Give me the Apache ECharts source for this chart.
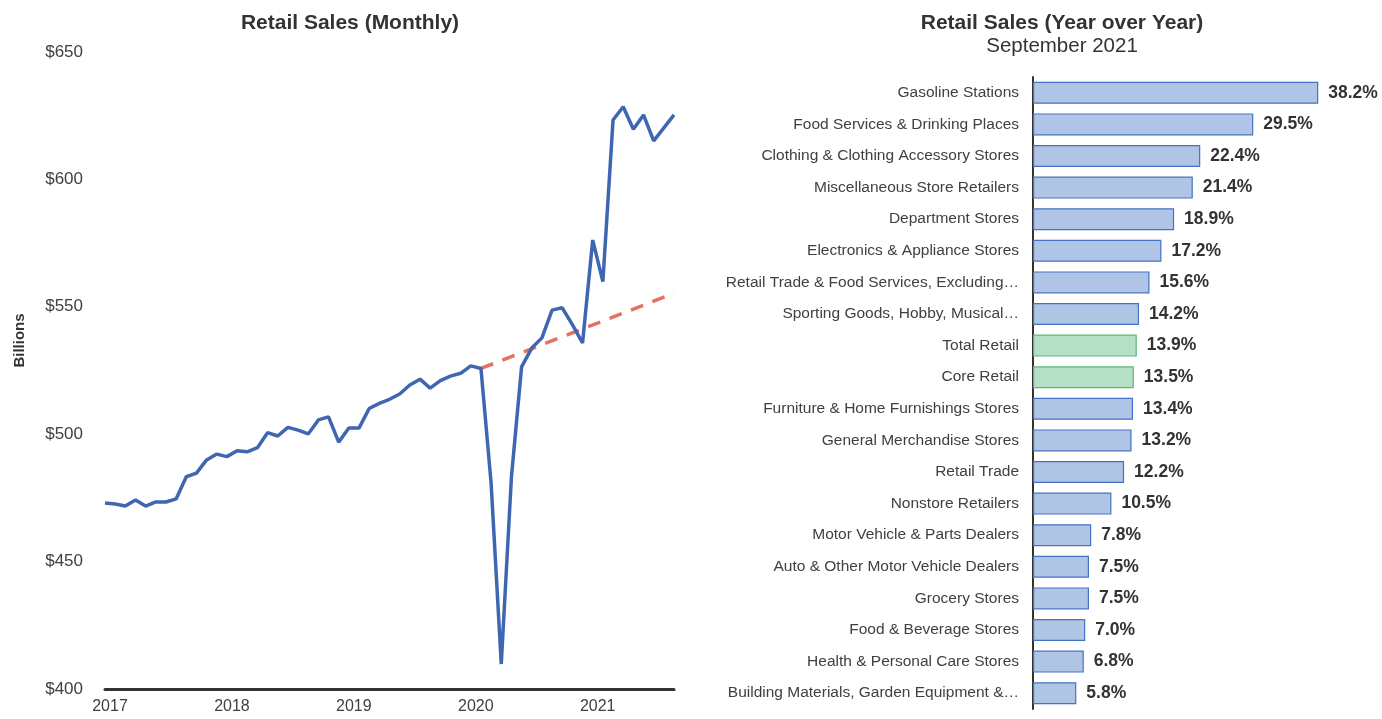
<!DOCTYPE html>
<html>
<head>
<meta charset="utf-8">
<title>Retail Sales</title>
<script src="https://cdn.jsdelivr.net/npm/echarts@6/dist/echarts.min.js"></script>
<style>
  html, body { margin: 0; padding: 0; background: #fff; }
  #chart { width: 1382px; height: 719px; }
</style>
</head>
<body>
<div id="chart"></div>
<script>
// monthly retail sales, billions of dollars (Jan 2017 - Sep 2021)
const months = []
for (let y = 2017; y <= 2021; y++) {
  for (let m = 1; m <= 12; m++) {
    if (y === 2021 && m > 9) break
    months.push(y + '-' + String(m).padStart(2, '0'))
  }
}
const sales = [
  473.0, 472.6, 471.8, 474.2, 471.8, 473.4, 473.4, 474.6, 483.3, 484.7, 489.9, 492.2,
  491.2, 493.5, 493.1, 494.7, 500.6, 499.3, 502.7, 501.6, 500.1, 505.6, 506.8, 496.9,
  502.4, 502.4, 510.1, 512.1, 513.7, 515.8, 519.3, 521.6, 518.1, 521.0, 522.8, 523.9,
  526.8, 525.8, 480.8, 409.8, 483.2, 526.4, 533.8, 537.8, 548.7, 549.6, 543.0, 535.8,
  576.2, 559.9, 623.3, 628.5, 619.7, 625.3, 615.1, 620.2, 625.3
]
// pre-pandemic trend (start and end points)
const trend = [['2020-02', 525.8], ['2021-09', 555.3]]

// year over year change, September 2021
const categories = [
  'Gasoline Stations',
  'Food Services & Drinking Places',
  'Clothing & Clothing Accessory Stores',
  'Miscellaneous Store Retailers',
  'Department Stores',
  'Electronics & Appliance Stores',
  'Retail Trade & Food Services, Excluding…',
  'Sporting Goods, Hobby, Musical…',
  'Total Retail',
  'Core Retail',
  'Furniture & Home Furnishings Stores',
  'General Merchandise Stores',
  'Retail Trade',
  'Nonstore Retailers',
  'Motor Vehicle & Parts Dealers',
  'Auto & Other Motor Vehicle Dealers',
  'Grocery Stores',
  'Food & Beverage Stores',
  'Health & Personal Care Stores',
  'Building Materials, Garden Equipment &…'
]
const yoy = [38.2, 29.5, 22.4, 21.4, 18.9, 17.2, 15.6, 14.2, 13.9, 13.5, 13.4, 13.2, 12.2, 10.5, 7.8, 7.5, 7.5, 7.0, 6.8, 5.8]
const highlighted = ['Total Retail', 'Core Retail']

const font = '"Liberation Sans", Arial, sans-serif'
const chart = echarts.init(document.getElementById('chart'))

const option = {
  backgroundColor: '#fff',
  animation: false,
  textStyle: { fontFamily: font },
  title: [
    {
      text: 'Retail Sales (Monthly)',
      left: 345,
      top: 8,
      textAlign: 'center',
      textStyle: { fontSize: 21, fontWeight: 'bold', color: '#333', fontFamily: font }
    },
    {
      text: 'Retail Sales (Year over Year)',
      subtext: 'September 2021',
      left: 1057,
      top: 8,
      textAlign: 'center',
      itemGap: 2,
      textStyle: { fontSize: 21, fontWeight: 'bold', color: '#333', fontFamily: font },
      subtextStyle: { fontSize: 20.5, color: '#333', fontFamily: font }
    }
  ],
  grid: [
    { left: 105, right: 708, top: 52, bottom: 30 },
    { left: 1033, right: 13, top: 77, bottom: 10 }
  ],
  xAxis: [
    {
      type: 'category',
      gridIndex: 0,
      data: months,
      boundaryGap: false,
      axisLine: { show: true, lineStyle: { color: '#333', width: 3 } },
      axisTick: { show: false },
      splitLine: { show: false },
      axisLabel: {
        interval: (idx) => idx % 12 === 0,
        formatter: (v) => v.slice(0, 4),
        color: '#404040',
        fontSize: 16,
        margin: 10,
        padding: [0, 0, 0, 10]
      }
    },
    {
      type: 'value',
      gridIndex: 1,
      min: 0,
      max: 45,
      show: false
    }
  ],
  yAxis: [
    {
      type: 'value',
      gridIndex: 0,
      min: 400,
      max: 650,
      interval: 50,
      name: 'Billions',
      nameLocation: 'middle',
      nameGap: 78,
      nameTextStyle: { fontSize: 15, fontWeight: 'bold', color: '#333', padding: [0, 0, 0, 60] },
      axisLine: { show: false },
      axisTick: { show: false },
      splitLine: { show: false },
      axisLabel: { formatter: '${value}', color: '#404040', fontSize: 17, margin: 22 }
    },
    {
      type: 'category',
      gridIndex: 1,
      data: categories,
      inverse: true,
      axisLine: { show: true, lineStyle: { color: '#333', width: 2 } },
      axisTick: { show: false },
      axisLabel: { color: '#404040', fontSize: 15.5, margin: 14 }
    }
  ],
  series: [
    {
      name: 'Retail Sales',
      type: 'line',
      xAxisIndex: 0,
      yAxisIndex: 0,
      data: sales,
      symbol: 'none',
      z: 3,
      lineStyle: { color: '#3f67b1', width: 3.5 }
    },
    {
      name: 'Trend',
      type: 'line',
      xAxisIndex: 0,
      yAxisIndex: 0,
      data: trend,
      symbol: 'none',
      z: 2,
      lineStyle: { color: '#e8705e', width: 3.5, type: [13, 10] }
    },
    {
      name: 'YoY',
      type: 'bar',
      xAxisIndex: 1,
      yAxisIndex: 1,
      barWidth: 22,
      data: yoy.map((v, i) => {
        const green = highlighted.includes(categories[i])
        return {
          value: v,
          itemStyle: {
            color: green ? '#b5e0c5' : '#b0c4e5',
            borderColor: green ? '#5cb67a' : '#4472c4',
            borderWidth: 1.2
          }
        }
      }),
      label: {
        show: true,
        position: 'right',
        distance: 10,
        formatter: (p) => p.value.toFixed(1) + '%',
        fontSize: 17.5,
        fontWeight: 'bold',
        color: '#333'
      }
    }
  ]
}

chart.setOption(option)
</script>
</body>
</html>
